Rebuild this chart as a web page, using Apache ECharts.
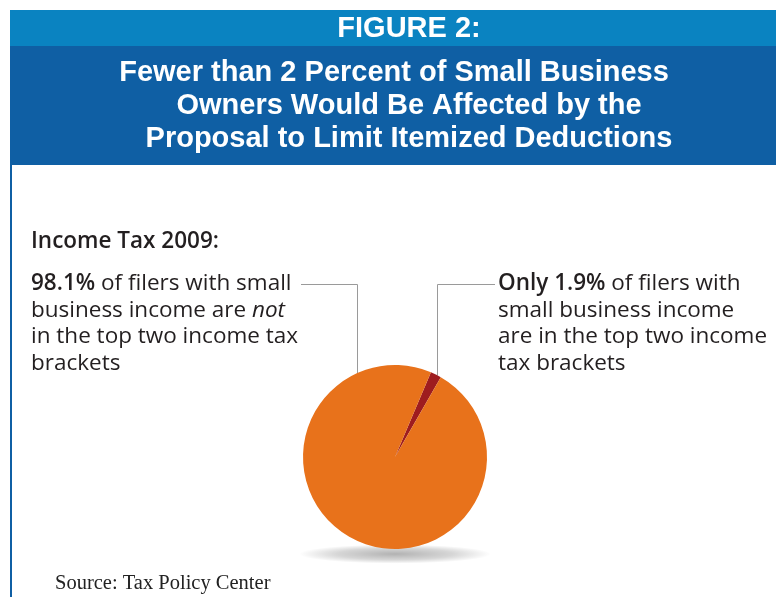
<!DOCTYPE html>
<html>
<head>
<meta charset="utf-8">
<script src="https://cdn.jsdelivr.net/npm/echarts@6/dist/echarts.min.js"></script>
<style>
  html, body { margin: 0; padding: 0; background: #ffffff; }
  #chart { width: 776px; height: 597px; }
</style>
</head>
<body>
<div id="chart"></div>
<script>
// Share of filers with small business income, 2009
const categories = ['In the top two income tax brackets', 'Not in the top two income tax brackets'];
const shares = [1.9, 98.1];
const sliceColors = ['#9e1c1f', '#e8721b'];

const headerLines = [
  'Fewer than 2 Percent of Small Business',
  'Owners Would Be Affected by the',
  'Proposal to Limit Itemized Deductions'
];
const figureLabel = 'FIGURE 2:';
const subTitle = 'Income Tax 2009:';
const sourceNote = 'Source: Tax Policy Center';

// pie geometry
const PIE_CX = 395, PIE_CY = 457, PIE_R = 92;

// y on the upper pie edge for a given x
function edgeY(x) {
  const dx = x - PIE_CX;
  return PIE_CY - Math.sqrt(PIE_R * PIE_R - dx * dx);
}

const bodyFont = '"Open Sans", "Noto Sans", sans-serif';
const FS = 22.5;
const LH = 26.5;
const bodyRich = {
  b: { fontFamily: bodyFont, fontSize: FS, fontWeight: 600, fill: '#231f20', lineHeight: LH },
  i: { fontFamily: bodyFont, fontSize: FS, fontStyle: 'italic', fill: '#231f20', lineHeight: LH },
  n: { fontFamily: bodyFont, fontSize: FS, fill: '#231f20', lineHeight: LH }
};

const leftText =
  '{b|' + shares[1] + '%}{n| of filers with small}\n' +
  '{n|business income are }{i|not}\n' +
  '{n|in the top two income tax}\n' +
  '{n|brackets}';
const rightText =
  '{b|Only ' + shares[0] + '%}{n| of filers with}\n' +
  '{n|small business income}\n' +
  '{n|are in the top two income}\n' +
  '{n|tax brackets}';

const titleStyle = (txt, x, y) => ({
  type: 'text',
  x: x, y: y,
  z: 2,
  style: {
    text: txt,
    fontFamily: '"Liberation Sans", Arial, sans-serif',
    fontWeight: 'bold',
    fontSize: 29,
    fill: '#ffffff',
    align: 'center',
    verticalAlign: 'middle'
  }
});

const chart = echarts.init(document.getElementById('chart'), null, { renderer: 'canvas' });

chart.setOption({
  backgroundColor: '#ffffff',
  animation: false,
  series: [{
    type: 'pie',
    center: [PIE_CX, PIE_CY],
    radius: PIE_R,
    startAngle: 67,
    clockwise: true,
    silent: true,
    label: { show: false },
    labelLine: { show: false },
    itemStyle: { borderWidth: 0 },
    data: categories.map((name, i) => ({
      name: name,
      value: shares[i],
      itemStyle: { color: sliceColors[i] }
    })),
    z: 5
  }],
  graphic: [
    // header banner
    { type: 'rect', shape: { x: 10, y: 10, width: 766, height: 36 }, style: { fill: '#0a83c1' }, z: 1 },
    { type: 'rect', shape: { x: 10, y: 46, width: 766, height: 119 }, style: { fill: '#0f5fa4' }, z: 1 },
    { type: 'rect', shape: { x: 10, y: 165, width: 2, height: 432 }, style: { fill: '#0f5fa4' }, z: 1 },
    titleStyle(figureLabel, 409, 29),
    titleStyle(headerLines[0], 394, 73),
    titleStyle(headerLines[1], 409, 106),
    titleStyle(headerLines[2], 409, 139),

    // soft shadow beneath the pie
    {
      type: 'circle',
      shape: { cx: 0, cy: 0, r: 96 },
      x: PIE_CX, y: 554,
      scaleX: 1, scaleY: 0.1,
      style: {
        fill: {
          type: 'radial', x: 0.5, y: 0.5, r: 0.5,
          colorStops: [
            { offset: 0, color: 'rgba(0,0,0,0.30)' },
            { offset: 0.6, color: 'rgba(0,0,0,0.16)' },
            { offset: 1, color: 'rgba(0,0,0,0)' }
          ]
        }
      },
      z: 0
    },

    // subtitle
    {
      type: 'text', x: 31, y: 242, z: 3,
      style: {
        text: subTitle, fontFamily: bodyFont, fontSize: FS, fontWeight: 600,
        fill: '#231f20', verticalAlign: 'middle'
      }
    },

    // annotation blocks
    {
      type: 'text', x: 31, y: 284 - LH / 2, z: 3,
      style: { text: leftText, rich: bodyRich, verticalAlign: 'top', lineHeight: LH }
    },
    {
      type: 'text', x: 498, y: 284 - LH / 2, z: 3,
      style: { text: rightText, rich: bodyRich, verticalAlign: 'top', lineHeight: LH }
    },

    // leader lines
    {
      type: 'polyline', z: 3,
      shape: { points: [[301, 284.5], [357.5, 284.5], [357.5, edgeY(357.5)]] },
      style: { stroke: '#9a9a9a', lineWidth: 1, fill: null }
    },
    {
      type: 'polyline', z: 3,
      shape: { points: [[437.5, edgeY(437.5)], [437.5, 284.5], [495, 284.5]] },
      style: { stroke: '#9a9a9a', lineWidth: 1, fill: null }
    },

    // source note
    {
      type: 'text', x: 55, y: 584, z: 3,
      style: {
        text: sourceNote, fontFamily: '"Liberation Serif", "DejaVu Serif", serif',
        fontSize: 20.5, fill: '#222222', verticalAlign: 'middle'
      }
    }
  ]
});
</script>
</body>
</html>
